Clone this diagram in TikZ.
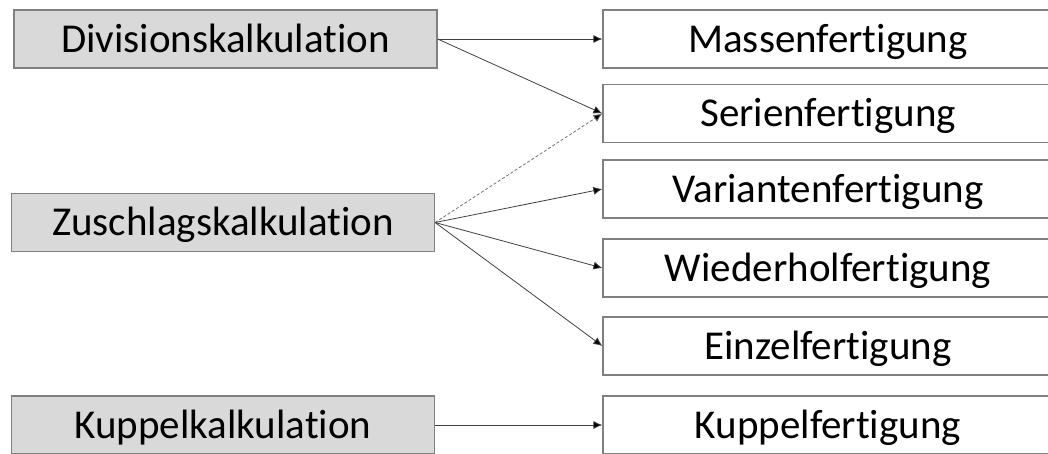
\documentclass[tikz,border=0pt]{standalone}
\usepackage{fontspec}
\setmainfont{Carlito}[Ligatures=NoCommon]
\usetikzlibrary{arrows.meta}

\tikzset{
  kalk/.style={draw=black!50, fill=black!15, line width=1.2pt,
    minimum width=423pt, minimum height=58pt, inner sep=0pt,
    text height=26pt, text depth=0pt,
    font=\fontsize{41}{48}\selectfont},
  fert/.style={draw=black!50, fill=white, line width=1.2pt,
    minimum width=450pt, minimum height=58pt, inner sep=0pt,
    text height=26pt, text depth=0pt,
    font=\fontsize{41}{48}\selectfont},
  pfeil/.style={draw=black!75, line width=0.8pt,
    -{Latex[length=9pt,width=8pt,fill=black]}},
  pfeilgep/.style={pfeil, densely dashed, draw=black!55}
}

\begin{document}
\begin{tikzpicture}[x=1pt,y=-1pt]

\clip (0,0) rectangle (1048,453);

%Kalkulationsverfahren links
\node[kalk] (div) at (225.5,39) {Divisionskalkulation};
\node[kalk] (zus) at (223,222.5) {Zuschlagskalkulation};
\node[kalk] (kup) at (223,425) {Kuppelkalkulation};

%Fertigungstypen rechts
\node[fert] (mass) at (828,39) {Massenfertigung};
\node[fert] (serie) at (828,113.5) {Serienfertigung};
\node[fert] (var) at (828,189) {Variantenfertigung};
\node[fert] (wied) at (828,268) {Wiederholfertigung};
\node[fert] (einz) at (828,346) {Einzelfertigung};
\node[fert] (kupf) at (828,425) {Kuppelfertigung};

%Zuordnungen
\draw[pfeil] (div.east) -- (mass.west);
\draw[pfeil] (div.east) -- (serie.west);

\draw[pfeilgep] (zus.east) -- (serie.west);
\draw[pfeil] (zus.east) -- (var.west);
\draw[pfeil] (zus.east) -- (wied.west);
\draw[pfeil] (zus.east) -- (einz.west);

\draw[pfeil] (kup.east) -- (kupf.west);

\end{tikzpicture}
\end{document}
